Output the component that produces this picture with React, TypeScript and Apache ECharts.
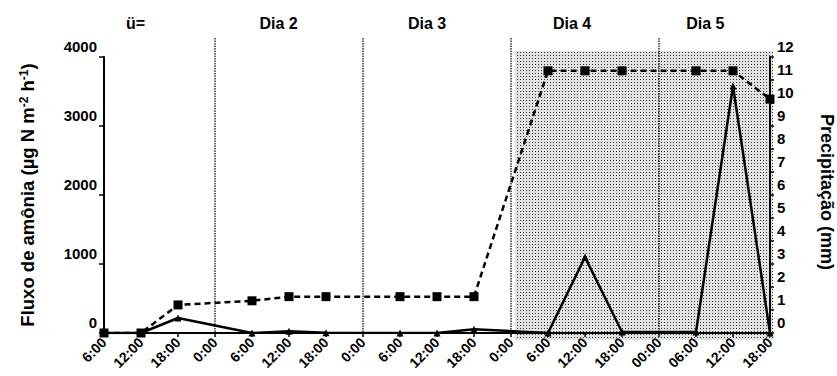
import React, { useEffect, useRef } from 'react';
import * as echarts from 'echarts';

const timeLabels = ['6:00', '12:00', '18:00', '0:00', '6:00', '12:00', '18:00', '0:00', '6:00', '12:00', '18:00', '0:00', '6:00', '12:00', '18:00', '00:00', '06:00', '12:00', '18:00'];
const fluxoAmonia: (number | null)[] = [0, 0, 217, null, 0, 25, 5, null, 0, 0, 55, null, 0, 1100, 15, null, 15, 3580, 0];
const precipitacao: (number | null)[] = [0, 0, 1.22, null, 1.4, 1.58, 1.58, null, 1.58, 1.58, 1.58, null, 11.4, 11.4, 11.4, null, 11.4, 11.4, 10.17];
const dayLabels = ['ü=', 'Dia 2', 'Dia 3', 'Dia 4', 'Dia 5'];
const dayLabelPos = [0.85, 4.72, 8.73, 12.65, 16.25];
const dayDividers = [3, 7, 11, 15];
const rainPeriod = [11, 18];

const FONT = '"Liberation Sans", Arial, sans-serif';

function makePattern() {
  const c = document.createElement('canvas');
  c.width = 3;
  c.height = 3;
  const ctx = c.getContext('2d')!;
  ctx.fillStyle = '#e2e2e2';
  ctx.fillRect(0, 0, 3, 3);
  ctx.fillStyle = '#333333';
  ctx.fillRect(1, 1, 1, 1);
  return c;
}

const yLabelStyle = {
  margin: 7,
  verticalAlign: 'bottom',
  lineHeight: 22,
  color: '#000',
  fontWeight: 'bold',
  fontSize: 15,
  fontFamily: FONT,
  showMinLabel: true,
  showMaxLabel: true,
  hideOverlap: false,
  formatter: (v: number) => String(v),
};

export default function App() {
  const ref = useRef<HTMLDivElement>(null);
  useEffect(() => {
    if (!ref.current) return;
    const chart = echarts.init(ref.current, null, { renderer: 'svg' });
    const toPairs = (arr: (number | null)[]) =>
      arr.map((v, i) => [i, v]).filter((d) => d[1] !== null);
    chart.setOption({
      animation: false,
      grid: { left: 104, right: 67, top: 57, bottom: 43, containLabel: false },
      xAxis: {
        type: 'value',
        min: 0,
        max: timeLabels.length - 1,
        interval: 1,
        splitLine: { show: false },
        axisLine: { lineStyle: { color: '#000', width: 2 } },
        axisTick: { length: 4, lineStyle: { color: '#000', width: 1.5 } },
        axisLabel: {
          formatter: (v: number) => timeLabels[v] ?? '',
          rotate: 45,
          margin: 7,
          color: '#000',
          fontWeight: 'bold',
          fontSize: 14,
          fontFamily: FONT,
          showMinLabel: true,
          showMaxLabel: true,
        },
      },
      yAxis: [
        {
          type: 'value',
          min: 0,
          max: 4000,
          interval: 1000,
          splitLine: { show: false },
          axisLine: { show: true, lineStyle: { color: '#000', width: 2 } },
          axisTick: { show: true, length: 5, lineStyle: { color: '#000', width: 1.5 } },
          axisLabel: yLabelStyle,
        },
        {
          type: 'value',
          min: 0,
          max: 12,
          interval: 1,
          position: 'right',
          splitLine: { show: false },
          axisLine: { show: true, lineStyle: { color: '#000', width: 2 } },
          axisTick: { show: true, length: 4, lineStyle: { color: '#000', width: 1.5 } },
          axisLabel: yLabelStyle,
        },
      ],
      series: [
        {
          name: 'Fluxo',
          type: 'line',
          yAxisIndex: 0,
          data: toPairs(fluxoAmonia),
          symbol: 'triangle',
          symbolSize: 7,
          itemStyle: { color: '#000' },
          lineStyle: { color: '#000', width: 2.5 },
          z: 3,
        },
        {
          name: 'Precipitação',
          type: 'line',
          yAxisIndex: 1,
          data: toPairs(precipitacao),
          symbol: 'rect',
          symbolSize: 9,
          itemStyle: { color: '#000' },
          lineStyle: { color: '#000', width: 2.5, type: [6, 4] },
          z: 4,
        },
      ],
    });

    const px = (x: number) => chart.convertToPixel({ xAxisIndex: 0 }, x) as number;
    const yTop = 57;
    const yBottom = 333;
    const pattern = makePattern();
    const graphics: any[] = [];
    graphics.push({
      type: 'rect',
      z: -10,
      shape: {
        x: px(rainPeriod[0]) + 4,
        y: yTop - 6,
        width: px(rainPeriod[1]) - px(rainPeriod[0]) - 1,
        height: yBottom - yTop + 13,
      },
      style: { fill: { image: pattern, repeat: 'repeat', imageWidth: 3, imageHeight: 3 } as any },
    });
    dayDividers.forEach((d) => {
      graphics.push({
        type: 'line',
        z: 1,
        shape: { x1: px(d), y1: 38, x2: px(d), y2: yBottom },
        style: { stroke: '#000', lineWidth: 1.2, lineDash: [1.5, 1] },
      });
    });
    dayLabels.forEach((t, i) => {
      graphics.push({
        type: 'text',
        x: px(dayLabelPos[i]),
        y: 23,
        style: {
          text: t,
          fill: '#000',
          font: `bold 16px ${FONT}`,
          align: 'center',
          verticalAlign: 'middle',
        },
      });
    });
    graphics.push({
      type: 'text',
      x: 27,
      y: 195,
      rotation: Math.PI / 2,
      style: {
        text: '{a|Fluxo de amônia (µg N m}{s|-2}{a| h}{s|-1}{a|)}',
        align: 'center',
        verticalAlign: 'middle',
        rich: {
          a: { fontSize: 18.5, fontWeight: 'bold', fontFamily: FONT, fill: '#000', color: '#000' },
          s: { fontSize: 12, fontWeight: 'bold', fontFamily: FONT, fill: '#000', color: '#000', padding: [0, 0, 7, 0] },
        },
      },
    });
    graphics.push({
      type: 'text',
      x: 827,
      y: 192,
      rotation: -Math.PI / 2,
      style: {
        text: 'Precipitação (mm)',
        fill: '#000',
        font: `bold 18px ${FONT}`,
        align: 'center',
        verticalAlign: 'middle',
      },
    });
    chart.setOption({ graphic: graphics });

    return () => chart.dispose();
  }, []);
  return (
    <div
      ref={ref}
      style={{ position: 'fixed', left: 0, top: 0, width: 837, height: 376, background: '#fff' }}
    />
  );
}
